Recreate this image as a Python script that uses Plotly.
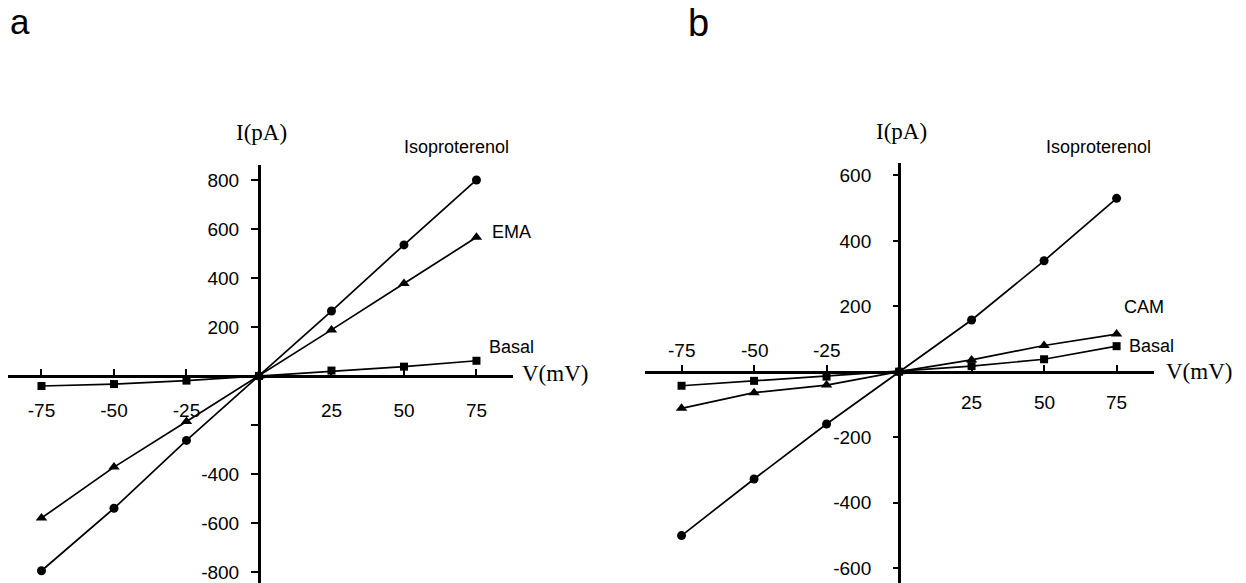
import plotly.graph_objects as go

# ---------------- data ----------------
voltage = [-75, -50, -25, 0, 25, 50, 75]

# panel a
a_isoproterenol = [-795, -540, -263, 0, 265, 535, 800]
a_ema = [-580, -372, -186, 0, 188, 377, 566]
a_basal = [-41, -33, -19, 0, 22, 38, 62]

# panel b
b_isoproterenol = [-501, -328, -160, 0, 158, 339, 530]
b_cam = [-112, -64, -41, 0, 36, 80, 115]
b_basal = [-43, -28, -15, 0, 17, 38, 78]

x_tickvals = [-75, -50, -25, 25, 50, 75]
x_ticktext = ["-75", "-50", "-25", "25", "50", "75"]
a_y_tickvals = [-800, -600, -400, -200, 200, 400, 600, 800]
a_y_ticktext = ["-800", "-600", "-400", "", "200", "400", "600", "800"]
b_y_tickvals = [-600, -400, -200, 200, 400, 600]
b_y_ticktext = ["-600", "-400", "-200", "200", "400", "600"]

W, H = 1246, 583
SANS = "Liberation Sans"
SERIF = "Liberation Serif"

fig = go.Figure()

line = dict(color="black", width=1.7)


def add_series(x, y, symbol, size, xa, ya, name):
    fig.add_trace(go.Scatter(
        x=x, y=y, mode="lines+markers", name=name,
        line=line, marker=dict(symbol=symbol, size=size, color="black"),
        xaxis=xa, yaxis=ya, cliponaxis=False, showlegend=False))


add_series(voltage, a_basal, "square", 8, "x", "y", "Basal")
add_series(voltage, a_ema, "triangle-up", 10, "x", "y", "EMA")
add_series(voltage, a_isoproterenol, "circle", 9, "x", "y", "Isoproterenol")

add_series(voltage, b_basal, "square", 8, "x2", "y2", "Basal")
add_series(voltage, b_cam, "triangle-up", 10, "x2", "y2", "CAM")
add_series(voltage, b_isoproterenol, "circle", 9, "x2", "y2", "Isoproterenol")

# ---------- axes geometry ----------
a_xrange = [-86.55, 87.6]
a_yrange = [-845, 861]
a_xdom = [8 / W, 513 / W]
a_ydom = [0, (H - 165) / H]

b_xrange = [-87.6, 87.9]
b_yrange = [-646, 638]
b_xdom = [645 / W, 1154 / W]
b_ydom = [0, (H - 163) / H]


def frac(v, rng, dom):
    return dom[0] + (v - rng[0]) / (rng[1] - rng[0]) * (dom[1] - dom[0])


tickfont = dict(family=SANS, size=19, color="black")
common = dict(showgrid=False, zeroline=False, showline=True, linecolor="black",
              linewidth=3, tickcolor="black", tickfont=tickfont)

fig.update_layout(
    width=W, height=H,
    margin=dict(l=0, r=0, t=0, b=0),
    paper_bgcolor="white", plot_bgcolor="white",
    xaxis=dict(domain=a_xdom, range=a_xrange, anchor="free",
               position=frac(0, a_yrange, a_ydom),
               tickvals=x_tickvals, ticktext=x_ticktext,
               ticks="inside", ticklen=6, tickwidth=1.5,
               ticklabelstandoff=16, **common),
    yaxis=dict(domain=a_ydom, range=a_yrange, anchor="free",
               position=frac(0, a_xrange, a_xdom),
               tickvals=a_y_tickvals, ticktext=a_y_ticktext,
               ticks="outside", ticklen=7, tickwidth=1.5,
               ticklabelstandoff=8, **common),
    xaxis2=dict(domain=b_xdom, range=b_xrange, anchor="free",
                position=frac(0, b_yrange, b_ydom),
                tickvals=x_tickvals, ticks="inside", ticklen=6, tickwidth=1.5,
                showticklabels=False, **common),
    yaxis2=dict(domain=b_ydom, range=b_yrange, anchor="free",
                position=frac(0, b_xrange, b_xdom),
                tickvals=b_y_tickvals, ticktext=b_y_ticktext,
                ticks="outside", ticklen=5, tickwidth=1.5,
                ticklabelstandoff=18, **common),
)

ann = []


def label(text, x, y, panel, font, size):
    if panel == "a":
        px, py = frac(x, a_xrange, a_xdom), frac(y, a_yrange, a_ydom)
    else:
        px, py = frac(x, b_xrange, b_xdom), frac(y, b_yrange, b_ydom)
    ann.append(dict(text=text, x=px, y=py, xref="paper", yref="paper",
                    showarrow=False, xanchor="center", yanchor="middle",
                    font=dict(family=font, size=size, color="black")))


# panel a labels (positions in data units of panel a)
label("Isoproterenol", 68, 935, "a", SANS, 18)
label("EMA", 87, 588, "a", SANS, 18)
label("Basal", 87, 118, "a", SANS, 18)
label("V(mV)", 102, 12, "a", SERIF, 23)
label("I(pA)", 0.7, 992, "a", SERIF, 23)

# panel b labels
label("Isoproterenol", 68.6, 687, "b", SANS, 18)
label("CAM", 84.5, 198, "b", SANS, 18)
label("Basal", 87.2, 79, "b", SANS, 18)
label("V(mV)", 103.4, 0, "b", SERIF, 23)
label("I(pA)", 1, 733, "b", SERIF, 23)

# panel b x tick labels: negatives above axis, positives below
for v, t in zip(x_tickvals, x_ticktext):
    label(t, v, 66 if v < 0 else -93, "b", SANS, 19)

# panel letters
ann.append(dict(text="a", x=8 / W, y=1, xref="paper", yref="paper",
                xanchor="left", yanchor="top", showarrow=False,
                font=dict(family=SANS, size=35, color="black")))
ann.append(dict(text="b", x=686 / W, y=1, xref="paper", yref="paper",
                xanchor="left", yanchor="top", showarrow=False,
                font=dict(family=SANS, size=38, color="black")))

fig.update_layout(annotations=ann)

fig.write_html("out.html", config={"displayModeBar": False},
               post_script="document.body.style.margin='0';")
